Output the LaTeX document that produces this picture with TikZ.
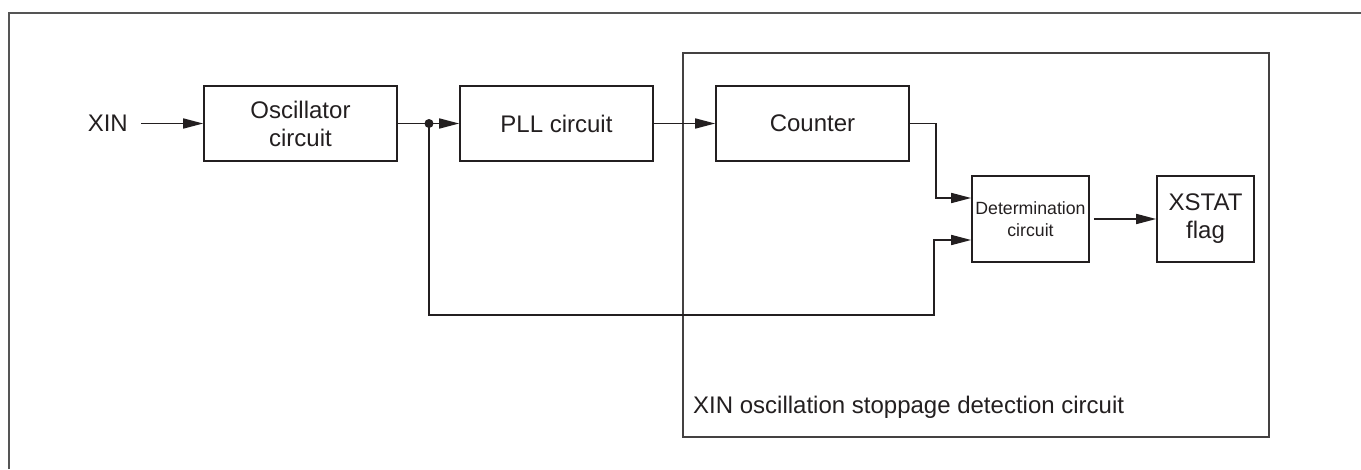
\documentclass[tikz,border=0pt]{standalone}
\usepackage{fontspec}
\setmainfont{Liberation Sans}
\usetikzlibrary{arrows.meta,calc}
\definecolor{ink}{HTML}{231F20}
\definecolor{frame}{HTML}{555555}
\tikzset{
  blk/.style={draw=ink, line width=1.6pt, inner sep=0pt, align=center, text=ink,
              font=\fontsize{24}{28}\selectfont},
  arr/.style={draw=ink, line width=1.6pt, -{Triangle[length=20pt,width=10pt]}},
  lbl/.style={text=ink, inner sep=0pt, font=\fontsize{24}{28}\selectfont},
}
\begin{document}
\begin{tikzpicture}[x=1pt,y=-1pt]
\useasboundingbox (0,0) rectangle (1361,469);
% outer frame (cropped)
\draw[frame, line width=1.4pt] (9,469) -- (9,13) -- (1361,13);
% detection circuit enclosure
\draw[draw=ink!85!white, line width=1.8pt] (683,53) rectangle (1269,437);
\node[lbl, anchor=base west] (cap) at (693,413) {XIN oscillation stoppage detection circuit};
% blocks
\node[lbl, anchor=east, inner xsep=13pt] (xin) at (141,123.5) {XIN};
\node[blk, minimum width=193pt, minimum height=75pt] (osc) at (300.5,123.5) {Oscillator\\circuit};
\node[blk, minimum width=193pt, minimum height=75pt] (pll) at (556.5,123.5) {PLL circuit};
\node[blk, minimum width=193pt, minimum height=75pt] (cnt) at (812.5,123.5) {Counter};
\node[blk, minimum width=117pt, minimum height=86pt, font=\fontsize{17.7}{22}\selectfont] (det) at (1030.5,219) {Determination\\circuit};
\node[blk, minimum width=97pt, minimum height=86pt] (xst) at (1205.5,219) {XSTAT\\flag};
% connectors
\coordinate (j) at (429,123.5);
\draw[arr] (xin.east) -- (osc.west);
\draw[arr] (osc.east) -- (pll.west);
\fill[ink] (j) circle (4.5pt);
\draw[arr] (pll.east) -- (cnt.west);
\draw[arr] (cnt.east) -- ++(26,0) |- ($(det.west)+(0,-21)$);
\draw[arr] (j) -- (429,315) -| ($(det.west)+(-37,21)$) -- ($(det.west)+(0,21)$);
\draw[arr] ($(det.east)+(4,0)$) -- (xst.west);
\end{tikzpicture}
\end{document}
